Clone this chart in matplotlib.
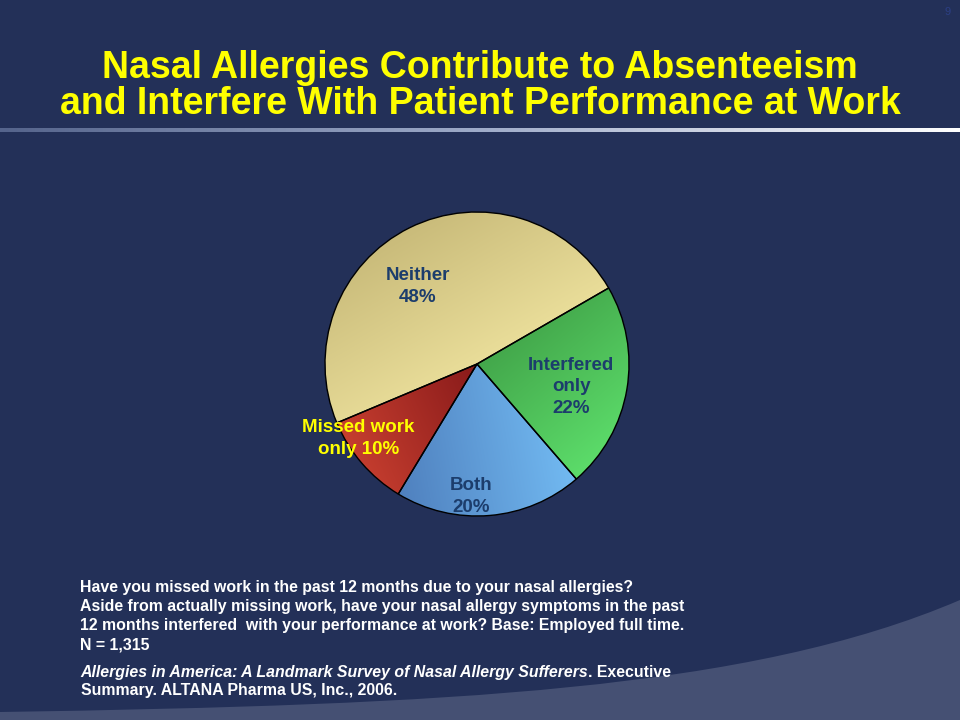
import numpy as np
import matplotlib.pyplot as plt
from matplotlib.colors import LinearSegmentedColormap
from matplotlib.path import Path
from matplotlib.patches import PathPatch

# data
categories = ["Neither", "Missed work only", "Both", "Interfered only"]
shares = [48, 10, 20, 22]
slice_labels = ["Neither\n48%", "Missed work\nonly 10%", "Both\n20%", "Interfered\nonly\n22%"]

title_lines = [
    "Nasal Allergies Contribute to Absenteeism",
    "and Interfere With Patient Performance at Work",
]
question_lines = [
    "Have you missed work in the past 12 months due to your nasal allergies?",
    "Aside from actually missing work, have your nasal allergy symptoms in the past",
    "12 months interfered  with your performance at work? Base: Employed full time.",
    "N = 1,315",
]
source_title = "Allergies in America: A Landmark Survey of Nasal Allergy Sufferers"
source_rest = ". Executive"
source_line2 = "Summary. ALTANA Pharma US, Inc., 2006."

BG = "#233058"
FONT = ["Liberation Sans", "DejaVu Sans"]

# (dark, light, gradient direction in degrees)
shading = [
    ("#c9bb7a", "#e9dd99", -60),
    ("#881a1a", "#c63e2f", 205),
    ("#4f80be", "#72baf2", 10),
    ("#43a74b", "#5cdc6a", -50),
]
label_xy = [(-0.39, 0.51), (-0.78, -0.49), (-0.04, -0.87), (0.62, -0.15)]
label_col = ["#1c3d6c", "#ffff00", "#1c3d6c", "#1c3d6c"]

fig = plt.figure(figsize=(9.6, 7.2), dpi=100)
fig.patch.set_facecolor(BG)

# background decoration, pixel coordinates
bg = fig.add_axes([0, 0, 1, 1])
bg.axis("off")

band = Path(
    [(0, 712), (450, 705), (750, 690), (960, 600), (960, 720), (0, 720), (0, 712)],
    [Path.MOVETO, Path.CURVE4, Path.CURVE4, Path.CURVE4, Path.LINETO, Path.LINETO, Path.CLOSEPOLY],
)
bg.add_patch(PathPatch(band, facecolor="#455073", edgecolor="none"))

rule_cmap = LinearSegmentedColormap.from_list("rule", ["#55648c", "#9eabc9", "#ffffff"])
bg.imshow(np.linspace(0, 1, 256)[None, :], cmap=rule_cmap, aspect="auto",
          extent=(0, 960, 132, 128), interpolation="bilinear")
bg.set_xlim(0, 960)
bg.set_ylim(720, 0)

for y, line in zip([68, 104], title_lines):
    bg.text(480, y, line, ha="center", va="center", color="#ffff00", fontsize=27,
            fontweight="bold", family=FONT)
bg.text(948, 12, "9", ha="center", va="center", color="#2c3f84", fontsize=8, family=FONT)

for i, line in enumerate(question_lines):
    bg.text(80, 592 + 19 * i, line, ha="left", va="baseline", color="white",
            fontsize=11.4, fontweight="bold", family=FONT)

t_it = bg.text(80, 677, source_title, ha="left", va="baseline", color="white",
               fontsize=11.4, fontweight="bold", fontstyle="italic", family=FONT)
renderer = fig.canvas.get_renderer()
x_end = t_it.get_window_extent(renderer).x1
bg.text(x_end, 677, source_rest, ha="left", va="baseline", color="white", fontsize=11.4,
        fontweight="bold", family=FONT)
bg.text(81, 695, source_line2, ha="left", va="baseline",
        color="white", fontsize=11.4, fontweight="bold", family=FONT)

# pie
cx, cy, r = 477, 364, 152
ax = fig.add_axes([(cx - r) / 960, (720 - cy - r) / 720, 2 * r / 960, 2 * r / 720])
ax.axis("off")

wedges, _ = ax.pie(shares, startangle=30, counterclock=True, radius=1,
                   wedgeprops=dict(edgecolor="black", linewidth=1.0, facecolor="none"))

gx, gy = np.meshgrid(np.linspace(-1, 1, 300), np.linspace(-1, 1, 300))
for w, (dark, light, ang) in zip(wedges, shading):
    d = np.array([np.cos(np.radians(ang)), np.sin(np.radians(ang))])
    proj = gx * d[0] + gy * d[1]
    vals = w.get_path().vertices @ d
    z = np.clip((proj - vals.min()) / (vals.max() - vals.min()), 0, 1)
    cmap = LinearSegmentedColormap.from_list("s", [dark, light])
    im = ax.imshow(z, cmap=cmap, extent=(-1, 1, -1, 1), origin="lower", zorder=0.5)
    im.set_clip_path(w)
    w.set_zorder(1)

for (x, y), txt, col in zip(label_xy, slice_labels, label_col):
    ax.text(x, y, txt, ha="center", va="center", color=col, fontsize=13.5,
            fontweight="bold", family=FONT, linespacing=1.35, zorder=3)

ax.set_xlim(-1, 1)
ax.set_ylim(-1, 1)

fig.savefig("out.png", dpi=100, facecolor=BG)
